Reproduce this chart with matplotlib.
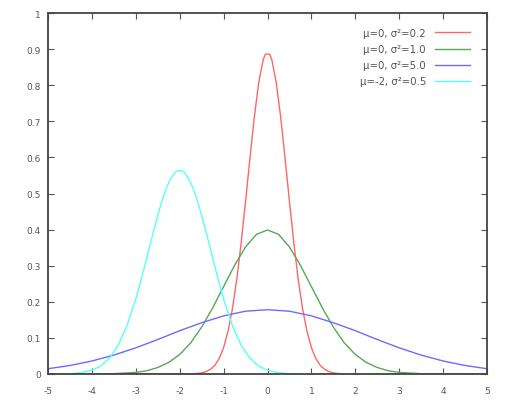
import matplotlib
matplotlib.use('Agg')
import matplotlib.pyplot as plt
import numpy as np

# valores (curvas normais)
x_red = [-5.0, -2.0, -1.8, -1.6, -1.5, -1.4, -1.3, -1.2, -1.1, -1.0, -0.9, -0.8, -0.7, -0.6, -0.5, -0.4, -0.3, -0.2, -0.1, -0.05,
         0.05, 0.1, 0.2, 0.3, 0.4, 0.5, 0.6, 0.7, 0.8, 0.9, 1.0, 1.1, 1.2, 1.3, 1.4, 1.5, 1.6, 1.8, 2.0, 5.0]
y_red = [0.0, 0.0, 0.0003, 0.0015, 0.0032, 0.0066, 0.013, 0.024, 0.043, 0.073, 0.118, 0.180, 0.262, 0.363, 0.478, 0.598, 0.712, 0.807, 0.870, 0.886,
         0.886, 0.870, 0.807, 0.712, 0.598, 0.478, 0.363, 0.262, 0.180, 0.118, 0.073, 0.043, 0.024, 0.013, 0.0066, 0.0032, 0.0015, 0.0003, 0.0, 0.0]

x_green = [-5.0, -4.0, -3.5, -3.0, -2.75, -2.5, -2.25, -2.0, -1.75, -1.5, -1.25, -1.0, -0.75, -0.5, -0.25, 0.0,
           0.25, 0.5, 0.75, 1.0, 1.25, 1.5, 1.75, 2.0, 2.25, 2.5, 2.75, 3.0, 3.5, 4.0, 5.0]
y_green = [0.0, 0.0001, 0.0009, 0.0044, 0.009, 0.018, 0.032, 0.054, 0.086, 0.130, 0.183, 0.242, 0.301, 0.352, 0.387, 0.399,
           0.387, 0.352, 0.301, 0.242, 0.183, 0.130, 0.086, 0.054, 0.032, 0.018, 0.009, 0.0044, 0.0009, 0.0001, 0.0]

x_blue = [-5.0, -4.5, -4.0, -3.5, -3.0, -2.5, -2.0, -1.5, -1.0, -0.5, 0.0, 0.5, 1.0, 1.5, 2.0, 2.5, 3.0, 3.5, 4.0, 4.5, 5.0]
y_blue = [0.0146, 0.0236, 0.036, 0.0524, 0.0725, 0.0955, 0.120, 0.142, 0.161, 0.174, 0.178,
          0.174, 0.161, 0.142, 0.120, 0.0955, 0.0725, 0.0524, 0.036, 0.0236, 0.0146]

x_cyan = [-5.0, -4.5, -4.25, -4.0, -3.8, -3.6, -3.4, -3.2, -3.0, -2.9, -2.8, -2.7, -2.6, -2.5, -2.4, -2.3, -2.2, -2.1, -2.05,
          -1.95, -1.9, -1.8, -1.7, -1.6, -1.5, -1.4, -1.3, -1.2, -1.1, -1.0, -0.8, -0.6, -0.4, -0.2, 0.0, 0.25, 0.5, 1.0, 5.0]
y_cyan = [0.0, 0.0011, 0.0036, 0.0103, 0.0221, 0.0436, 0.0795, 0.134, 0.208, 0.251, 0.298, 0.346, 0.394, 0.439, 0.481, 0.516, 0.542, 0.559, 0.563,
          0.563, 0.559, 0.542, 0.516, 0.481, 0.439, 0.394, 0.346, 0.298, 0.251, 0.208, 0.134, 0.0795, 0.0436, 0.0221, 0.0103, 0.0036, 0.0011, 0.0001, 0.0]

legendas = ['μ=0, σ²=0.2', 'μ=0, σ²=1.0', 'μ=0, σ²=5.0', 'μ=-2, σ²=0.5']
cores = ['#ff6666', '#55a855', '#6b6bff', '#55ffff']

xticks = np.arange(-5, 6, 1)
yticks = np.arange(0, 1.01, 0.1)
ytick_labels = ['0', '0.1', '0.2', '0.3', '0.4', '0.5', '0.6', '0.7', '0.8', '0.9', '1']

fig = plt.figure(figsize=(5.08, 4.06), dpi=100)
ax = fig.add_axes([48/508, 1 - 375/406, (487-48)/508, (375-14)/406])

series = [(x_red, y_red), (x_green, y_green), (x_blue, y_blue), (x_cyan, y_cyan)]
for (xs, ys), cor, nome in zip(series, cores, legendas):
    ax.plot(xs, ys, color=cor, lw=1.0, label=nome)

ax.set_xlim(-5, 5)
ax.set_ylim(0, 1)
ax.set_xticks(xticks)
ax.set_xticklabels([str(v) for v in xticks])
ax.set_yticks(yticks)
ax.set_yticklabels(ytick_labels)

ax.tick_params(direction='in', length=4.5, width=0.8, colors='#555555', labelsize=6.5,
               top=True, right=True, pad=5)
ax.tick_params(axis='x', pad=9)
for lado in ax.spines.values():
    lado.set_color('#444444')
    lado.set_linewidth(1.3)

leg = ax.legend(loc='upper right', bbox_to_anchor=((470-48)/439, 1 - 15/361), frameon=False,
                markerfirst=False, fontsize=7.3, handlelength=3.5, handletextpad=0.85,
                labelspacing=0.6, borderpad=0, borderaxespad=0)
for t in leg.get_texts():
    t.set_color('#555555')

fig.savefig('out.png', dpi=100)
